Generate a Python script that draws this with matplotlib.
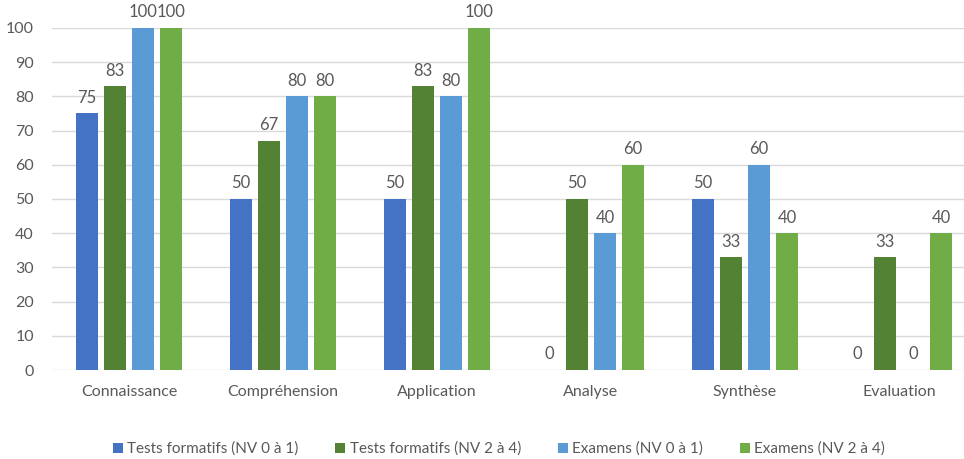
import numpy as np
import matplotlib.pyplot as plt

plt.rcParams['font.family'] = ['Lato', 'DejaVu Sans']

categories = ['Connaissance', 'Compréhension', 'Application', 'Analyse', 'Synthèse', 'Evaluation']
series_names = ['Tests formatifs (NV 0 à 1)', 'Tests formatifs (NV 2 à 4)',
                'Examens (NV 0 à 1)', 'Examens (NV 2 à 4)']
tests_nv01 = [75, 50, 50, 0, 50, 0]
tests_nv24 = [83, 67, 83, 50, 33, 33]
examens_nv01 = [100, 80, 80, 40, 60, 0]
examens_nv24 = [100, 80, 100, 60, 40, 40]
colors = ['#4472C4', '#548235', '#5B9BD5', '#70AD47']
text_color = '#595959'

fig = plt.figure(figsize=(9.64, 4.59), dpi=100)
ax = fig.add_axes([52 / 964, 89 / 459, 924 / 964, 342 / 459])

x = np.arange(len(categories))
step = 0.182
width = 0.14
all_series = [tests_nv01, tests_nv24, examens_nv01, examens_nv24]
for i, (vals, name, c) in enumerate(zip(all_series, series_names, colors)):
    pos = x + (i - 1.5) * step
    ax.bar(pos, vals, width, color=c, label=name, zorder=3)
    for xp, v in zip(pos, vals):
        ax.text(xp, v + 2.2, str(v), ha='center', va='bottom',
                fontsize=12, color=text_color)

ax.set_xlim(-0.5, len(categories) - 0.5)
ax.set_ylim(0, 100)
ax.set_yticks(range(0, 101, 10))
ax.set_xticks(x)
ax.set_xticklabels(categories)
ax.tick_params(axis='both', length=0, labelsize=11.5, colors=text_color)
ax.tick_params(axis='y', pad=13)
ax.tick_params(axis='x', pad=11)
ax.grid(axis='y', color='#D9D9D9', linewidth=1, zorder=0)
for s in ax.spines.values():
    s.set_visible(False)

fig.legend(loc='center', bbox_to_anchor=(499 / 964, 1 - 449 / 459), ncol=4,
           frameon=False, fontsize=11, handlelength=0.65, handleheight=0.65,
           handletextpad=0.3, columnspacing=2.4, labelcolor=text_color)

fig.savefig('out.png', dpi=100)
